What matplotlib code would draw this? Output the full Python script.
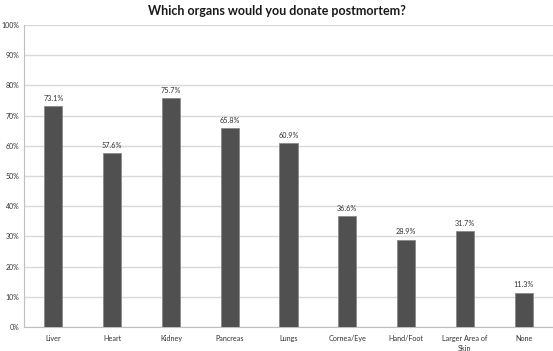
import matplotlib
matplotlib.use("Agg")
import matplotlib.pyplot as plt
from matplotlib.ticker import PercentFormatter

categories = ["Liver", "Heart", "Kidney", "Pancreas", "Lungs",
              "Cornea/Eye", "Hand/Foot", "Larger Area of\nSkin", "None"]
values = [73.1, 57.6, 75.7, 65.8, 60.9, 36.6, 28.9, 31.7, 11.3]

plt.rcParams["font.family"] = ["Lato", "DejaVu Sans"]

fig = plt.figure(figsize=(5.53, 3.51), dpi=100)
ax = fig.add_axes([0.0434, 0.0684, 0.9566, 0.8604])

x = range(len(categories))
bars = ax.bar(x, values, width=0.31, color="#505050", edgecolor="#8a8a8a",
              linewidth=0.6, zorder=3)
for xi, v in zip(x, values):
    ax.text(xi, v + 1.5, f"{v:.1f}%", ha="center", va="bottom",
            fontsize=5.2, color="#333333")

ax.set_xlim(-0.5, len(categories) - 0.5)
ax.set_ylim(0, 100)
ax.set_yticks(range(0, 101, 10))
ax.yaxis.set_major_formatter(PercentFormatter(decimals=0))
ax.set_xticks(list(x))
ax.set_xticklabels(categories, fontsize=5.2, color="#333333", linespacing=1.6)
ax.tick_params(axis="y", labelsize=5, labelcolor="#333333", length=0, pad=3.5)
ax.tick_params(axis="x", length=0, pad=5.5)
ax.grid(axis="y", color="#d9d9d9", linewidth=1, zorder=0)
for side in ["top", "right"]:
    ax.spines[side].set_visible(False)
ax.spines["bottom"].set_color("#bfbfbf")
ax.spines["left"].set_color("#bfbfbf")

fig.suptitle("Which organs would you donate postmortem?", y=0.985,
             fontsize=9, fontweight="bold", color="#1a1a1a")

fig.savefig("out.png", dpi=100)
